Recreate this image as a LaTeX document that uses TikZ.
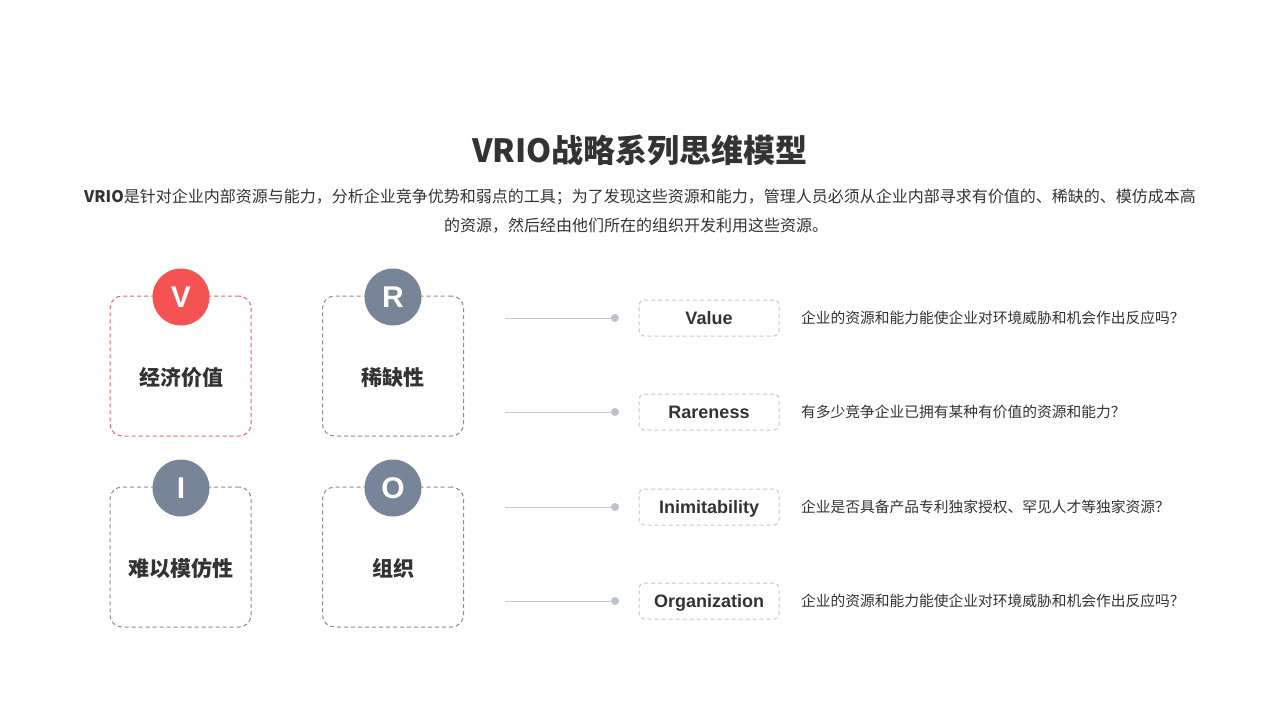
\documentclass[tikz,border=0pt]{standalone}
\usepackage{fontspec}
\setmainfont{Noto Sans CJK SC}
\newfontfamily\latinb{Liberation Sans}
\definecolor{vred}{HTML}{F55252}
\definecolor{vredline}{HTML}{F06262}
\definecolor{slate}{HTML}{788497}
\definecolor{slateline}{HTML}{838CA0}
\definecolor{txt}{HTML}{333333}
\definecolor{lightline}{HTML}{C3C7CF}
\definecolor{dotc}{HTML}{BCC2CD}
\begin{document}
\begin{tikzpicture}[x=1pt,y=-1pt,
  card/.style={draw=slateline,dash pattern=on 4pt off 3pt,line width=1pt,rounded corners=12pt,minimum width=141pt,minimum height=140pt,inner sep=0pt},
  redcard/.style={card,draw=vredline},
  badge/.style={circle,fill=slate,minimum size=57pt,inner sep=0pt,text=white,font=\latinb\bfseries\fontsize{30}{30}\selectfont},
  cardlabel/.style={text=txt,font=\bfseries\fontsize{21}{21}\selectfont},
  tag/.style={draw=lightline,dash pattern=on 4pt off 3pt,line width=1pt,rounded corners=5pt,minimum width=140pt,minimum height=36pt,inner sep=0pt,text height=12.5pt,text depth=0pt,text=txt,font=\latinb\bfseries\fontsize{18}{18}\selectfont},
  desc/.style={anchor=west,text=txt,inner sep=0pt,font=\fontsize{14.75}{14.75}\selectfont},
  conn/.style={draw=lightline,line width=0.9pt},
  dot/.style={circle,fill=dotc,minimum size=8pt,inner sep=0pt}
]
\useasboundingbox[fill=white] (0,0) rectangle (1280,720);

\node[text=txt,font=\bfseries\fontsize{32}{32}\selectfont] (title) at (640,150) {VRIO战略系列思维模型};
\node[text=txt,font=\fontsize{16}{16}\selectfont] (sub1) at (640,197) {\textbf{VRIO}是针对企业内部资源与能力，分析企业竞争优势和弱点的工具；为了发现这些资源和能力，管理人员必须从企业内部寻求有价值的、稀缺的、模仿成本高};
\node[text=txt,font=\fontsize{16}{16}\selectfont] (sub2) at (636,226) {的资源，然后经由他们所在的组织开发利用这些资源。};

% cards
\node[redcard] (cV) at (180.5,366) {};
\node[card] (cR) at (393,366) {};
\node[card] (cI) at (180.5,557) {};
\node[card] (cO) at (393,557) {};

\node[badge,fill=vred] (bV) at (181,297) {V};
\node[badge] (bR) at (393,297) {R};
\node[badge] (bI) at (181,488) {I};
\node[badge] (bO) at (393,488) {O};

\node[cardlabel] (lV) at (181,378) {经济价值};
\node[cardlabel] (lR) at (393,378) {稀缺性};
\node[cardlabel] (lI) at (181,568) {难以模仿性};
\node[cardlabel] (lO) at (393,568) {组织};

% right rows
\foreach \n/\y/\t/\d in {1/318/Value/企业的资源和能力能使企业对环境威胁和机会作出反应吗？,
                        2/412/Rareness/有多少竞争企业已拥有某种有价值的资源和能力？,
                        3/507/Inimitability/企业是否具备产品专利独家授权、罕见人才等独家资源？,
                        4/601/Organization/企业的资源和能力能使企业对环境威胁和机会作出反应吗？}{
  \coordinate (s\n) at (505,\y);
  \node[dot] (d\n) at (615,\y) {};
  \draw[conn] (s\n) -- (d\n);
  \node[tag] (t\n) at (709,\y) {\t};
  \node[desc] (q\n) at (801,\y) {\d};
}
\end{tikzpicture}
\end{document}
